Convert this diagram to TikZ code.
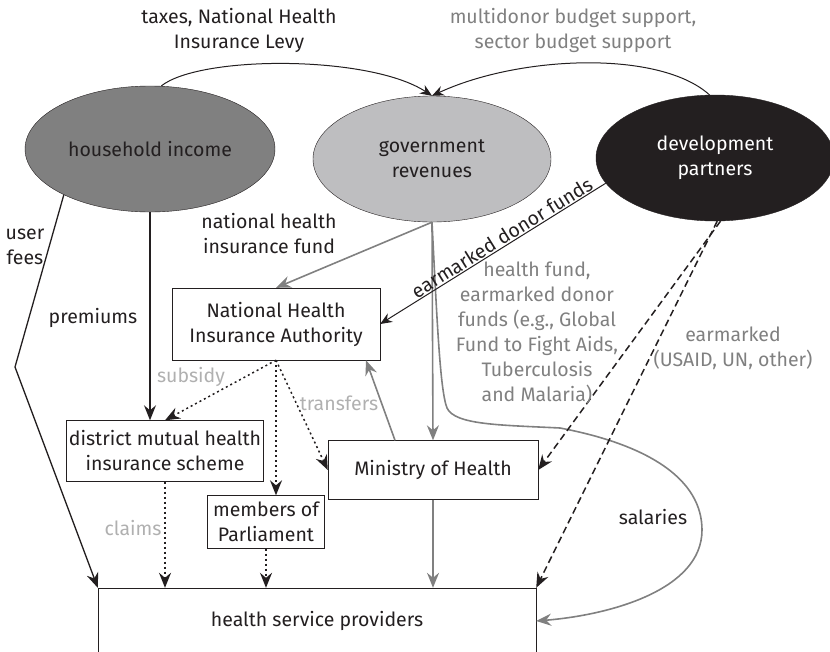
\documentclass[tikz,border=0pt]{standalone}
\usepackage{xcolor}
\usepackage{fontspec}
\setmainfont{Fira Sans}
\usepackage{tikz}
\usetikzlibrary{arrows.meta,shapes.geometric,positioning}

\begin{document}
\begin{tikzpicture}[x=1pt,y=-1pt]
    \definecolor{mygrayd}{RGB}{128,128,128}
    \definecolor{mygrayl}{RGB}{190,190,192}
    \definecolor{myblack}{RGB}{35,31,32}
    \definecolor{mytext}{RGB}{128,128,128}
    \definecolor{mytextl}{RGB}{176,176,176}

    \fontsize{19.5pt}{25pt}\selectfont  % 字体大小
    \tikzstyle{source}=[ellipse,draw=myblack,thin,minimum width=238pt,minimum height=126pt,align=center,text=myblack]  % 椭圆
    \tikzstyle{format}=[rectangle,draw=myblack,thin,fill=white,align=center,text=myblack,inner sep=2pt]  % 方框
    \tikzstyle{label}=[align=center,text=myblack]
    \tikzstyle{arrowb}=[draw=myblack,line width=1.3pt,-{Stealth[length=15pt,width=12pt,inset=5pt]}]
    \tikzstyle{arrowt}=[draw=myblack,line width=1pt,-{Stealth[length=12pt,width=10pt,inset=4pt]}]
    \tikzstyle{arrowg}=[draw=mygrayd,line width=1.6pt,-{Stealth[length=15pt,width=12pt,inset=5pt]}]
    \tikzstyle{arrowd}=[arrowb,line width=1.5pt,dash pattern=on 2pt off 3pt]  % 点线
    \tikzstyle{arrowe}=[arrowb,line width=1.5pt,dash pattern=on 7pt off 4pt]  % 虚线

    \useasboundingbox (0,0) rectangle (830,651);
    \clip (0,0) rectangle (830,651);

    % 定义节点
    \node[source,fill=mygrayd](income) at (150,149) {household income};
    \node[source,fill=mygrayl](revenue) at (432,159) {government\\revenues};
    \node[source,fill=myblack,text=white](partner) at (715,158) {development\\partners};

    \node[format,minimum width=208pt,minimum height=72pt](nhia) at (276,324) {National Health\\Insurance Authority};
    \node[format,minimum width=197pt,minimum height=61pt](district) at (165,451) {district mutual health\\insurance scheme};
    \node[format,minimum width=117pt,minimum height=53pt](mp) at (266,522) {members of\\Parliament};
    \node[format,minimum width=210pt,minimum height=59pt](moh) at (433,470) {Ministry of Health};
    \node[format,minimum width=438pt,minimum height=66pt](provider) at (317,621) {health service providers};

    \coordinate (bend) at (15,367);

    % 开始画线
    \draw[arrowt](income.80) .. controls (200,55) and (370,55) .. (revenue.north);
    \draw[arrowt](partner.95) .. controls (660,50) and (520,55) .. (revenue.north);
    \draw[arrowb](income.208) -- (bend) -- (provider.north west);
    \draw[arrowb](income.south) -- (income.south |- district.north);
    \draw[arrowg](revenue.south) -- (nhia.north);
    \draw[arrowg](revenue.south) -- (moh.north);
    \draw[arrowg](revenue.south) .. controls (437,320) and (440,390) .. (447,408)
        .. controls (455,425) and (500,425) .. (560,428)
        .. controls (650,445) and (702,480) .. (702,530)
        .. controls (702,590) and (610,615) .. (provider.east);
    \draw[arrowt](partner.193) -- node[sloped,above,pos=0.44,inner sep=1pt,text=myblack]{earmarked donor funds} (nhia.east);
    \draw[arrowe](partner.-85) -- (moh.east);
    \draw[arrowe](partner.-88) -- (provider.north east);
    \draw[arrowg]([xshift=-38pt]moh.north) -- ([xshift=90pt]nhia.south);
    \draw[arrowd](nhia.south) -- (district.north);
    \draw[arrowd](nhia.south) -- (nhia.south |- mp.north);
    \draw[arrowd](nhia.south) -- (moh.west);
    \draw[arrowd](district.south) -- (district.south |- provider.north);
    \draw[arrowd](mp.south) -- (mp.south |- provider.north);
    \draw[arrowg](moh.south) -- (moh.south |- provider.north);

    % 标注
    \node[label](taxes) at (239,30) {taxes, National Health\\Insurance Levy};
    \node[label,text=mytext](budget) at (573,30) {multidonor budget support,\\sector budget support};
    \node[label](fees) at (25,247) {user\\fees};
    \node[label](premium) at (93,318) {premiums};
    \node[label](fund) at (269,234) {national health\\insurance fund};
    \node[label,text=mytext](global) at (537,333) {health fund,\\earmarked donor\\funds (e.g., Global\\Fund to Fight Aids,\\Tuberculosis\\and Malaria)};
    \node[label,text=mytext](usaid) at (733,348) {earmarked\\(USAID, UN, other)};
    \node[label](salary) at (653,517) {salaries};
    \node[label,text=mytextl](subsidy) at (191,377) {subsidy};
    \node[label,text=mytextl](transfer) at (339,403) {transfers};
    \node[label,text=mytextl](claim) at (133,528) {claims};
\end{tikzpicture}
\end{document}
